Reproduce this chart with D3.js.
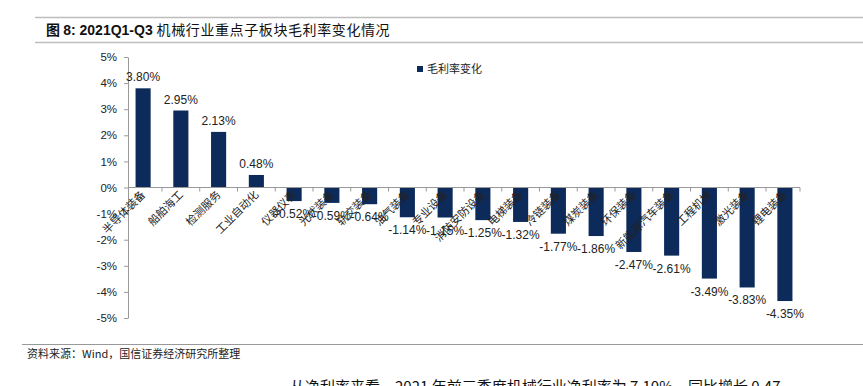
<!DOCTYPE html>
<html><head><meta charset="utf-8">
<script src="https://cdn.jsdelivr.net/npm/d3@7"></script>
<style>body{margin:0;background:#fff}svg{display:block}</style>
</head><body>
<svg id="c" width="863" height="386"></svg>
<script>
const categories = ["半导体装备","船舶海工","检测服务","工业自动化","仪器仪表","光伏装备","轨交装备","油气装备","专业设备","消防安防设备","电梯装备","冷链装备","煤炭装备","环保装备","新能源汽车装备","工程机械","激光装备","锂电装备"];
const values = [3.80,2.95,2.13,0.48,-0.52,-0.59,-0.64,-1.14,-1.15,-1.25,-1.32,-1.77,-1.86,-2.47,-2.61,-3.49,-3.83,-4.35];
const yTicks = [5,4,3,2,1,0,-1,-2,-3,-4,-5];
const seriesName = "毛利率变化";
const titleParts = ["图 ", "8: 2021Q1-Q3 ", "机械行业重点子板块毛利率变化情况"];
const source = "资料来源：Wind，国信证券经济研究所整理";
const bottomText = "从净利率来看，2021 年前三季度机械行业净利率为 7.10%，同比增长 0.47";

const svg = d3.select("#c");
const cjk = "'Noto Sans CJK SC','Noto Sans',sans-serif";
const lat = "'Liberation Sans',Arial,sans-serif";

// header lines and title
svg.append("line").attr("x1",35).attr("x2",863).attr("y1",17.5).attr("y2",17.5).attr("stroke","#bdbdbd").attr("stroke-width",1.5);
svg.append("line").attr("x1",35).attr("x2",863).attr("y1",42.5).attr("y2",42.5).attr("stroke","#bdbdbd").attr("stroke-width",1.5);
const t = svg.append("text").attr("x",46).attr("y",35).attr("font-size",14).attr("font-weight","bold").attr("fill","#111");
t.append("tspan").attr("font-family",cjk).text(titleParts[0]);
t.append("tspan").attr("font-family",lat).text(titleParts[1]);
t.append("tspan").attr("font-family",cjk).attr("font-weight","normal").attr("letter-spacing",0.6).text(titleParts[2]);

const x = d3.scaleBand().domain(categories).range([128,800]).paddingInner(0.6).paddingOuter(0.2);
const y = d3.scaleLinear().domain([-5,5]).range([318,57]);
const color = "#0c2a5a";

// y axis
const ya = svg.append("g").attr("transform","translate(128,0)")
  .call(d3.axisLeft(y).tickValues(yTicks).tickFormat(d=>d+"%").tickSize(4).tickSizeOuter(0));
ya.select(".domain").attr("stroke","#999");
ya.selectAll(".tick line").attr("stroke","#999");
ya.selectAll(".tick text").attr("font-family",lat).attr("font-size",11.5).attr("fill","#222").attr("x",-11);

// bars
svg.selectAll("rect.bar").data(values).join("rect").attr("class","bar")
  .attr("x",(d,i)=>x(categories[i])).attr("width",x.bandwidth())
  .attr("y",d=>y(Math.max(0,d))).attr("height",d=>Math.abs(y(d)-y(0)))
  .attr("fill",color);

// x axis at zero
svg.append("line").attr("x1",128).attr("x2",800).attr("y1",y(0)).attr("y2",y(0)).attr("stroke","#999");
const gap = x.step()*x.paddingInner()/2;
const bounds = categories.slice(1).map(c=>x(c)-gap).concat([800]);
svg.selectAll("line.xt").data(bounds).join("line").attr("class","xt")
  .attr("x1",d=>d).attr("x2",d=>d).attr("y1",y(0)).attr("y2",y(0)+4).attr("stroke","#999");

// category labels
svg.selectAll("text.cat").data(categories).join("text").attr("class","cat")
  .attr("transform",d=>`translate(${x(d)+x.bandwidth()/2+3},${y(0)+8}) rotate(-45)`)
  .attr("text-anchor","end").attr("font-family",cjk).attr("font-size",11).attr("fill","#222")
  .text(d=>d);

// value labels
svg.selectAll("text.val").data(values).join("text").attr("class","val")
  .attr("x",(d,i)=>x(categories[i])+x.bandwidth()/2)
  .attr("y",d=> d>=0 ? y(d)-7 : y(d)+17)
  .attr("text-anchor","middle").attr("font-family",lat).attr("font-size",12).attr("fill","#222")
  .text(d=>d.toFixed(2)+"%");

// legend
svg.append("rect").attr("x",417).attr("y",66).attr("width",6).attr("height",6).attr("fill",color);
svg.append("text").attr("x",427).attr("y",73).attr("font-family",cjk).attr("font-size",11).attr("fill","#222").text(seriesName);

// footer
svg.append("line").attr("x1",22).attr("x2",863).attr("y1",344.5).attr("y2",344.5).attr("stroke","#999").attr("stroke-width",1);
svg.append("text").attr("x",27).attr("y",358).attr("font-family",cjk).attr("font-size",11).attr("fill","#222").text(source);
svg.append("text").attr("x",290).attr("y",392).attr("font-family",cjk).attr("font-size",15).attr("fill","#111").text(bottomText);
</script>
</body></html>
